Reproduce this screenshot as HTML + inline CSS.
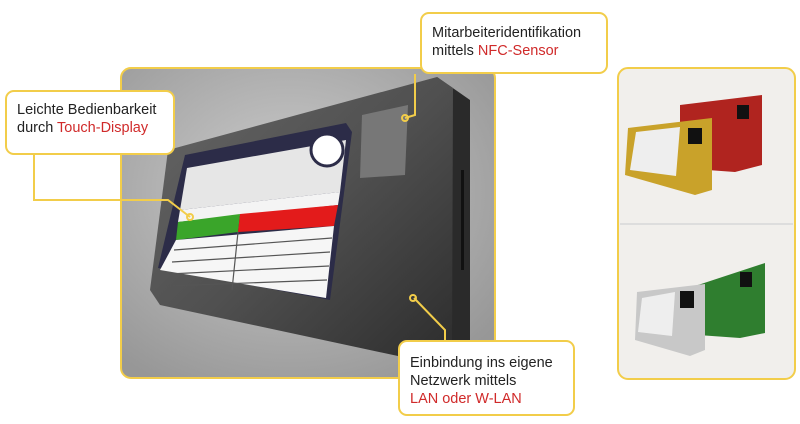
<!DOCTYPE html>
<html><head><meta charset="utf-8"><style>
body{margin:0;width:800px;height:424px;background:#fff;position:relative;overflow:hidden;font-family:"Liberation Sans",sans-serif}
.box{position:absolute;background:#fff;border:2px solid #f2cd4a;border-radius:9px;font-size:14.5px;line-height:18px;color:#222;padding:0 10px;box-sizing:border-box}
.r{color:#d02a2a}
</style></head><body>
<svg width="800" height="424" style="position:absolute;left:0;top:0">
<defs>
<radialGradient id="bg" cx="45%" cy="40%" r="70%"><stop offset="0" stop-color="#cdcdcd"/><stop offset="1" stop-color="#979797"/></radialGradient>
<linearGradient id="dev" x1="0" y1="0" x2="1" y2="1"><stop offset="0" stop-color="#666"/><stop offset="0.5" stop-color="#505050"/><stop offset="1" stop-color="#2c2c2c"/></linearGradient>
</defs>
<rect x="121" y="68" width="374" height="310" rx="10" fill="url(#bg)" stroke="#f2cd4a" stroke-width="2"/>
<polygon points="437,77 470,100 470,345 450,362 440,360" fill="#2a2a2a"/>
<polygon points="168,150 437,77 453,88 452,355 440,365 160,305 150,290" fill="url(#dev)"/>
<polygon points="185,155 346,123 352,132 330,300 158,268" fill="#2c2c48"/>
<polygon points="187,168 346,140 340,192 180,210" fill="#e6e6e6"/>
<polygon points="180,210 340,192 338,205 178,222" fill="#f4f4f4"/>
<polygon points="178,222 240,214 238,232 176,240" fill="#3aa52a"/>
<polygon points="240,214 338,205 334,226 238,232" fill="#e31b1b"/>
<polygon points="176,240 334,226 326,298 160,270" fill="#f6f6f6"/>
<g stroke="#555" stroke-width="1.2">
<line x1="174" y1="250" x2="332" y2="238"/><line x1="172" y1="262" x2="330" y2="252"/><line x1="169" y1="274" x2="329" y2="266"/><line x1="167" y1="286" x2="327" y2="280"/><line x1="238" y1="232" x2="232" y2="290"/>
</g>
<circle cx="327" cy="150" r="16" fill="#fff" stroke="#2c2c48" stroke-width="3"/>
<polygon points="362,115 408,105 405,175 360,178" fill="#777"/>
<rect x="461" y="170" width="3" height="100" fill="#111"/>
<polyline points="34,155 34,200 168,200 190,217" fill="none" stroke="#f2cd4a" stroke-width="2"/>
<circle cx="190" cy="217" r="3" fill="none" stroke="#f2cd4a" stroke-width="2"/>
<polyline points="415,74 415,115 405,118" fill="none" stroke="#f2cd4a" stroke-width="2"/>
<circle cx="405" cy="118" r="3" fill="none" stroke="#f2cd4a" stroke-width="2"/>
<polyline points="445,340 445,330 414,298" fill="none" stroke="#f2cd4a" stroke-width="2"/>
<circle cx="413" cy="298" r="3" fill="none" stroke="#f2cd4a" stroke-width="2"/>
<rect x="618" y="68" width="177" height="311" rx="10" fill="#f1efec" stroke="#f2cd4a" stroke-width="2"/>
<line x1="620" y1="224" x2="793" y2="224" stroke="#ddd" stroke-width="2"/>
<polygon points="680,105 762,95 762,165 735,172 680,168" fill="#b0241f"/>
<polygon points="628,128 712,118 712,190 695,195 625,175" fill="#c9a22a"/>
<polygon points="636,132 680,127 676,176 630,170" fill="#eee"/>
<rect x="688" y="128" width="14" height="16" fill="#111"/>
<rect x="737" y="105" width="12" height="14" fill="#111"/>
<polygon points="698,285 765,263 765,333 740,338 698,335" fill="#2f7e2f"/>
<polygon points="637,292 705,284 705,350 690,356 635,340" fill="#c8c8c8"/>
<polygon points="642,298 675,292 672,336 638,332" fill="#eee"/>
<rect x="680" y="291" width="14" height="17" fill="#111"/>
<rect x="740" y="272" width="12" height="15" fill="#111"/>
</svg>
<div class="box" style="left:5px;top:90px;width:170px;height:65px;padding-top:9px">Leichte Bedienbarkeit<br>durch <span class="r">Touch-Display</span></div>
<div class="box" style="left:420px;top:12px;width:188px;height:62px;padding-top:10px">Mitarbeiteridentifikation<br>mittels <span class="r">NFC-Sensor</span></div>
<div class="box" style="left:398px;top:340px;width:177px;height:76px;padding-top:12px">Einbindung ins eigene<br>Netzwerk mittels<br><span class="r">LAN oder W-LAN</span></div>
</body></html>
